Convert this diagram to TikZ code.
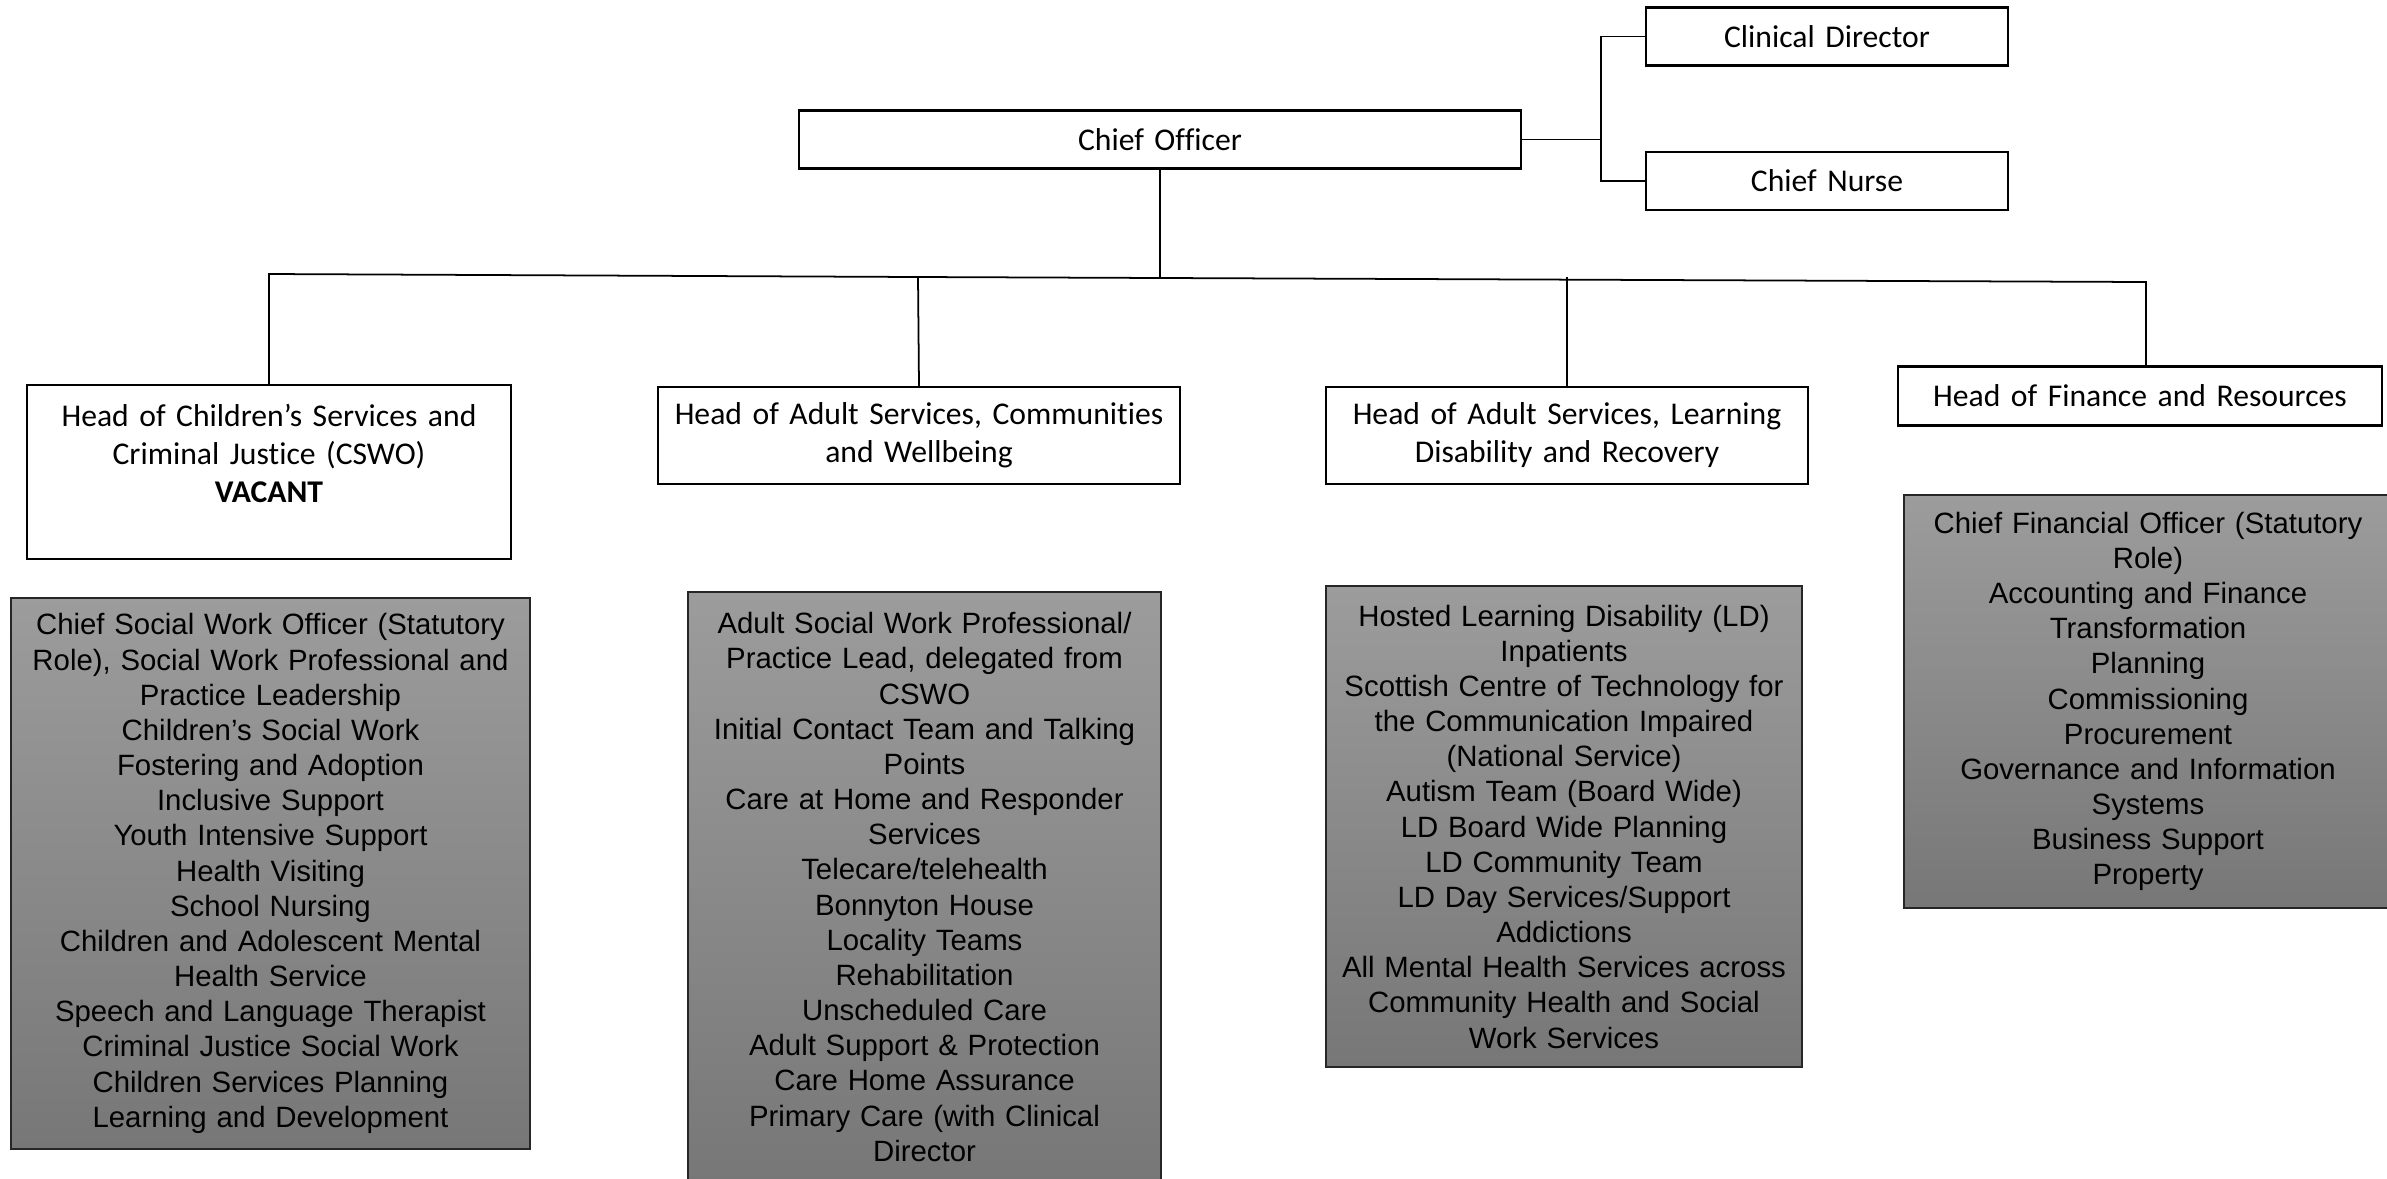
\documentclass[tikz,border=0pt]{standalone}
\usepackage{fontspec}
\setmainfont{Carlito}[Ligatures=NoCommon]
\newfontfamily\dutyfont{Liberation Sans}

\definecolor{shadetop}{RGB}{156,156,156}
\definecolor{shadebot}{RGB}{119,119,119}

\tikzset{
  headbox/.style={draw=black, line width=0.6pt, fill=white, align=center,
    inner sep=0pt, font=\fontsize{9}{10.8}\selectfont},
  dutybox/.style={draw=black!85, line width=0.5pt, top color=shadetop,
    bottom color=shadebot, align=center, inner sep=0pt,
    font=\dutyfont\fontsize{8.35}{10}\selectfont},
  link/.style={draw=black, line width=0.5pt},
}

\begin{document}
\begin{tikzpicture}[x=0.01cm, y=-0.01cm]
  \clip (0,0) rectangle (2387,1178);

  % top of the chart
  \node[headbox, text width=7.22cm, minimum height=0.58cm] (chief) at (1160,139.5) {Chief Officer};
  \node[headbox, text width=3.61cm, minimum height=0.58cm] (clinical) at (1827,36.5) {Clinical Director};
  \node[headbox, text width=3.61cm, minimum height=0.58cm] (nurse) at (1827,181) {Chief Nurse};

  % heads of service
  \node[headbox, text width=4.84cm, minimum height=1.74cm] (kidshead) at (269,472)
    {Head of Children’s Services and\\ Criminal Justice (CSWO)\\ \textbf{VACANT}\\ \mbox{}};
  \node[headbox, text width=5.22cm, minimum height=0.97cm] (adulthead) at (919,435.5)
    {Head of Adult Services, Communities\\ and Wellbeing};
  \node[headbox, text width=4.82cm, minimum height=0.97cm] (ldhead) at (1567,435.5)
    {Head of Adult Services, Learning\\ Disability and Recovery};
  \node[headbox, text width=4.83cm, minimum height=0.59cm] (finhead) at (2140,396)
    {Head of Finance and Resources};

  % remits
  \node[dutybox, text width=5.19cm, minimum height=5.51cm] (kidsduty) at (270.5,873.5)
    {Chief Social Work Officer (Statutory\\ Role), Social Work Professional and\\
     Practice Leadership\\ Children’s Social Work\\ Fostering and Adoption\\
     Inclusive Support\\ Youth Intensive Support\\ Health Visiting\\ School Nursing\\
     Children and Adolescent Mental\\ Health Service\\ Speech and Language Therapist\\
     Criminal Justice Social Work\\ Children Services Planning\\ Learning and Development};
  \node[dutybox, text width=4.73cm, minimum height=5.9cm] (adultduty) at (924.5,887)
    {Adult Social Work Professional/\\ Practice Lead, delegated from\\ CSWO\\
     Initial Contact Team and Talking\\ Points\\ Care at Home and Responder\\ Services\\
     Telecare/telehealth\\ Bonnyton House\\ Locality Teams\\ Rehabilitation\\
     Unscheduled Care\\ Adult Support \& Protection\\ Care Home Assurance\\
     Primary Care (with Clinical\\ Director};
  \node[dutybox, text width=4.76cm, minimum height=4.81cm] (ldduty) at (1564,826.5)
    {Hosted Learning Disability (LD)\\ Inpatients\\ Scottish Centre of Technology for\\
     the Communication Impaired\\ (National Service)\\ Autism Team (Board Wide)\\
     LD Board Wide Planning\\ LD Community Team\\ LD Day Services/Support\\ Addictions\\
     All Mental Health Services across\\ Community Health and Social\\ Work Services};
  \node[dutybox, text width=4.88cm, minimum height=4.13cm] (finduty) at (2148,701.5)
    {Chief Financial Officer (Statutory\\ Role)\\ Accounting and Finance\\ Transformation\\
     Planning\\ Commissioning\\ Procurement\\ Governance and Information\\ Systems\\
     Business Support\\ Property};

  % connectors
  \coordinate (fork) at (1601,139.5);
  \coordinate (busK) at (269,274);
  \coordinate (busA) at (918,277);
  \coordinate (busF) at (2146,282);
  \draw[link] (chief.east) -- (fork);
  \draw[link] (clinical.west) -| (fork) |- (nurse.west);
  \draw[link] (chief.south) -- (chief.south |- busA);
  \draw[link] (kidshead.north) -- (busK) -- (busA) -- (busF) -- (busF |- finhead.north);
  \draw[link] (adulthead.north) -- (busA);
  \draw[link] (ldhead.north) -- (ldhead.north |- busA);
\end{tikzpicture}
\end{document}
